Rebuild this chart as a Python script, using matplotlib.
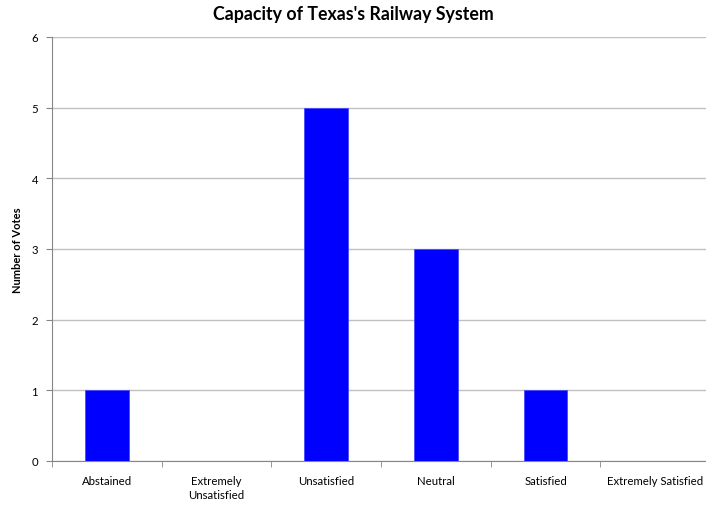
import numpy as np
import matplotlib.pyplot as plt

plt.rcParams['font.family'] = ['Lato', 'DejaVu Sans']

categories = ['Abstained', 'Extremely\nUnsatisfied', 'Unsatisfied', 'Neutral',
              'Satisfied', 'Extremely Satisfied']
votes = [1, 0, 5, 3, 1, 0]

fig = plt.figure(figsize=(7.06, 5.06), dpi=100)
# axes in pixel terms: left 52, right ~710, top 38, bottom 462
ax = fig.add_axes([52 / 706, (506 - 462) / 506, 658 / 706, 424 / 506])

x = np.arange(len(categories))
ax.bar(x, votes, width=0.4, color='#0000ff', edgecolor='#4a4aff', linewidth=0.6, zorder=3)

ax.set_xlim(-0.5, len(categories) - 0.5)
ax.set_ylim(0, 6)
ax.set_yticks(range(7))
ax.yaxis.grid(True, color='#c0c0c0', linewidth=1.0, zorder=0)

ax.set_xticks(x)
ax.set_xticklabels(categories, fontsize=8.2, linespacing=1.3)
ax.tick_params(axis='x', length=0, pad=10)
ax.set_xticks(np.arange(-0.5, len(categories)), minor=True)
ax.tick_params(axis='x', which='minor', length=4, color='#868686')
ax.tick_params(axis='y', length=4, color='#868686', labelsize=8.2, pad=6)

for s in ['top', 'right']:
    ax.spines[s].set_visible(False)
for s in ['left', 'bottom']:
    ax.spines[s].set_color('#868686')

ax.set_ylabel('Number of Votes', fontsize=8, fontweight='bold', labelpad=6)
fig.suptitle("Capacity of Texas's Railway System", fontsize=12.8, fontweight='bold', y=0.988)

fig.savefig('out.png', dpi=100)
